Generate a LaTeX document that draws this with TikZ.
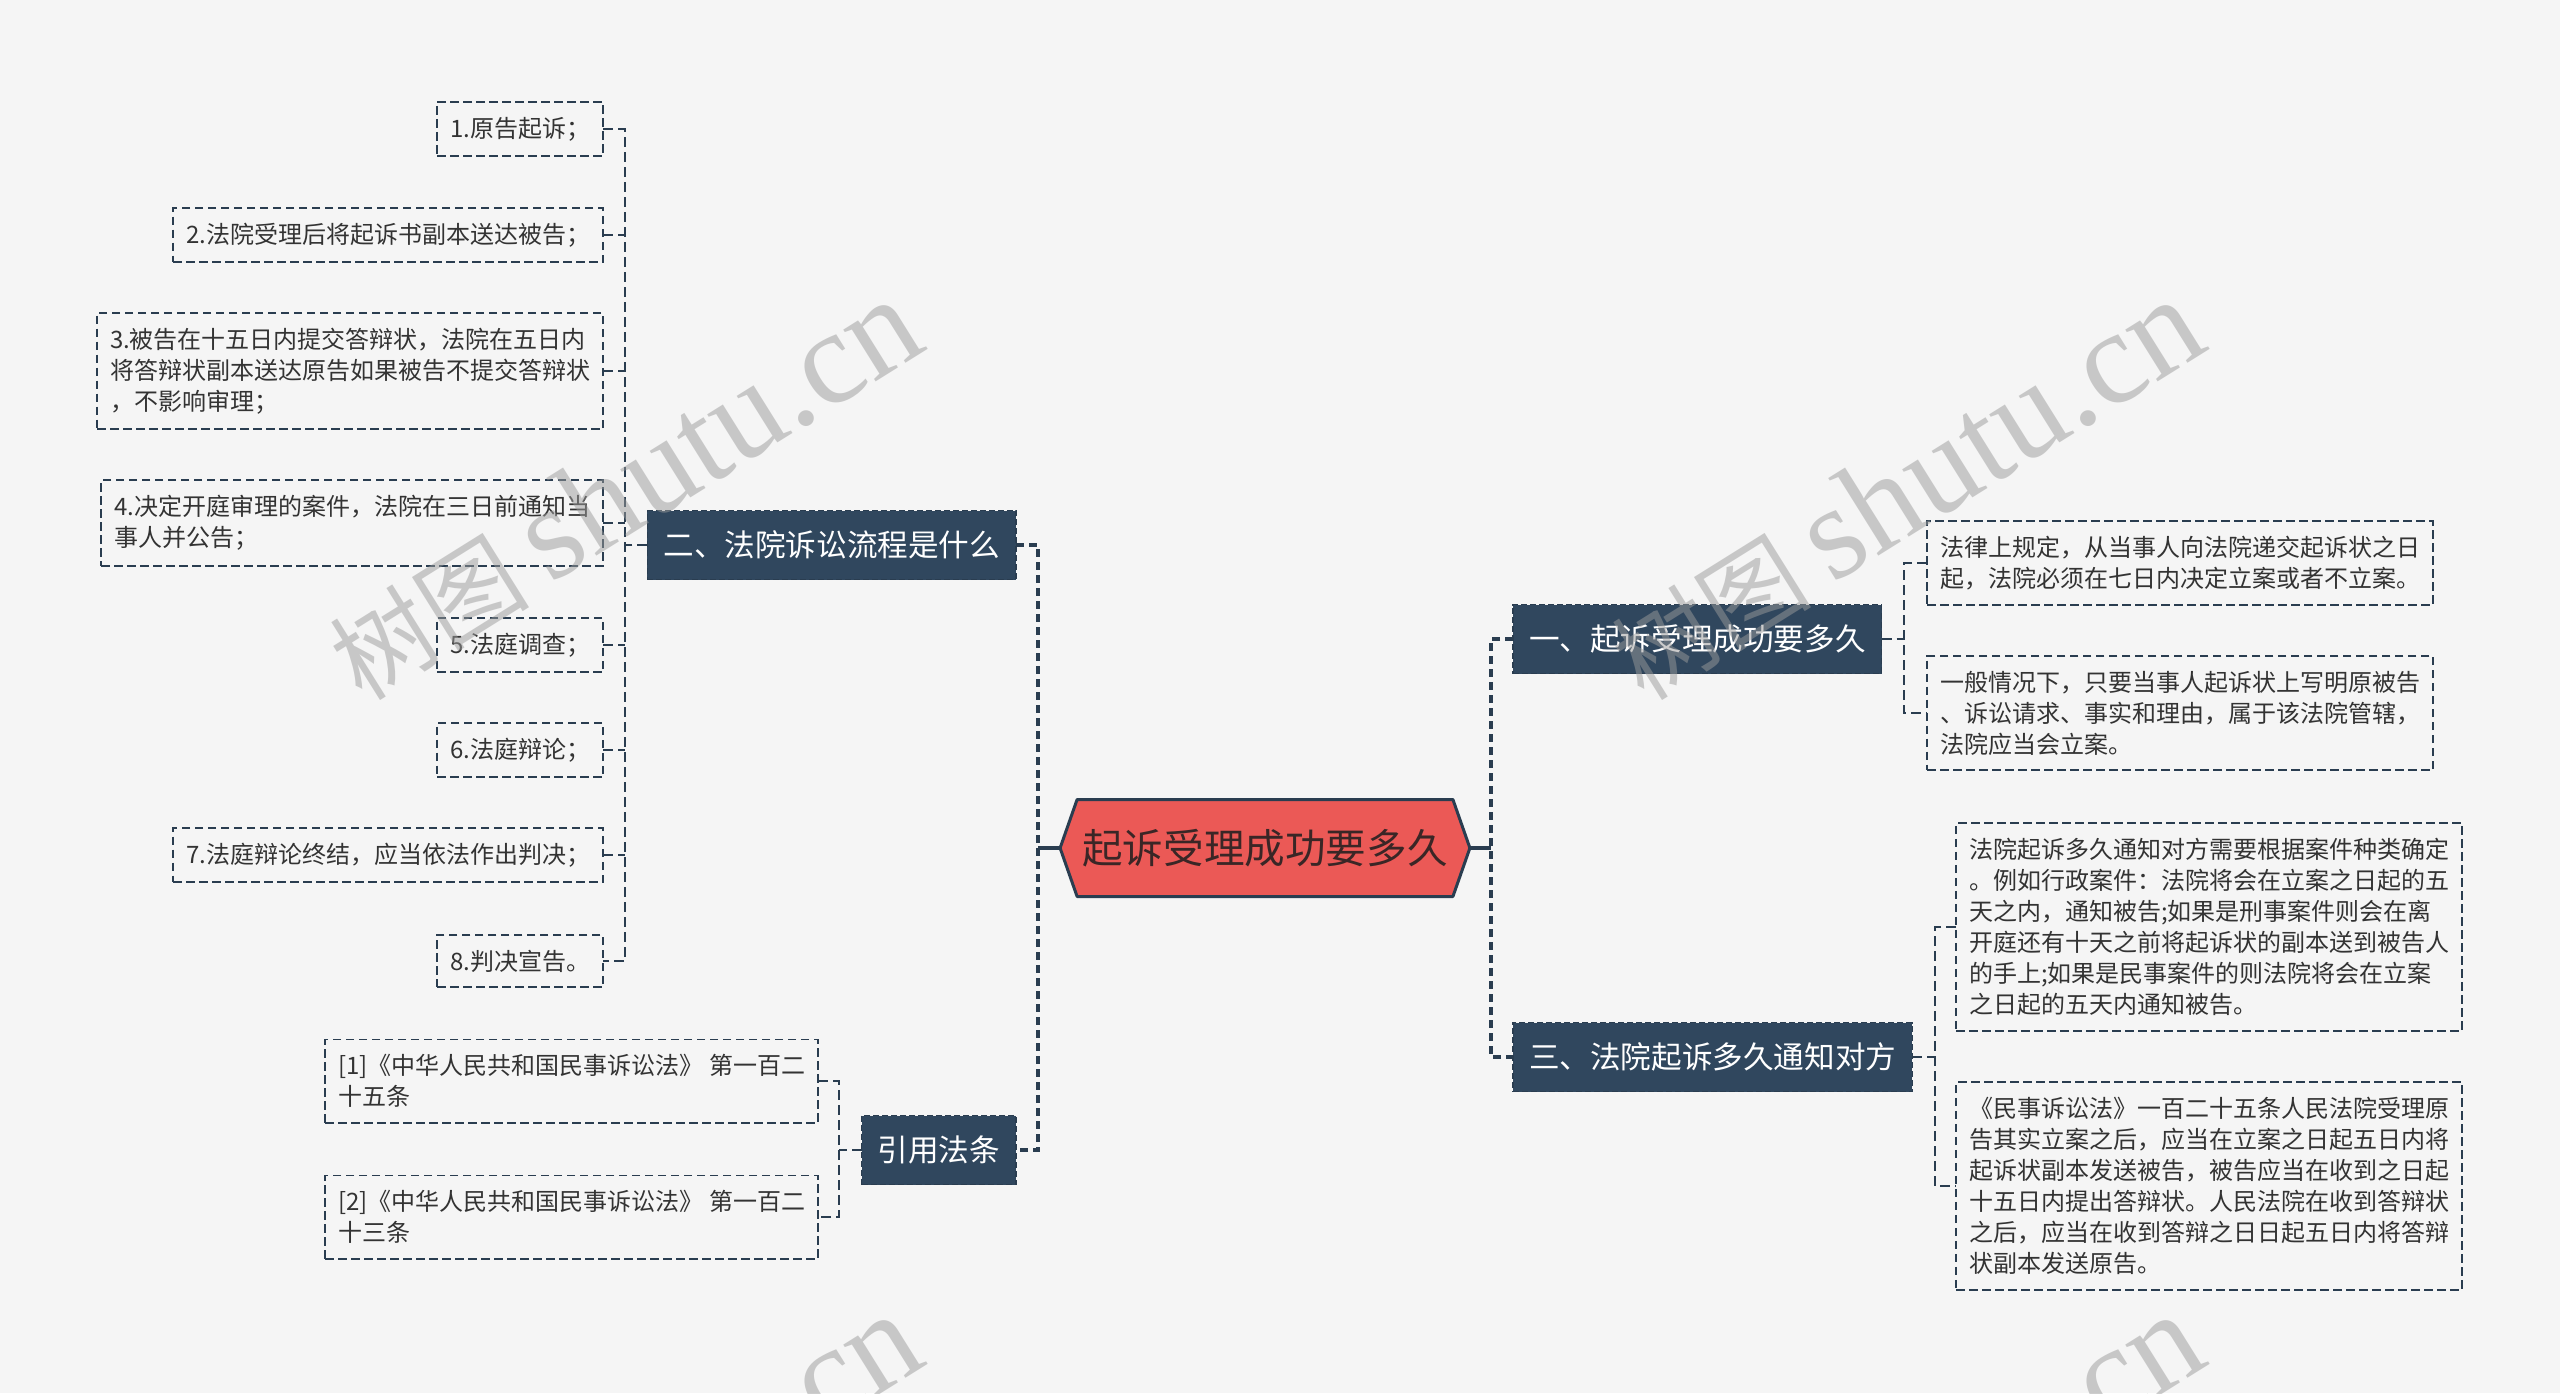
\documentclass[tikz,border=0pt]{standalone}
\usepackage{fontspec}
\setmainfont{Noto Sans CJK SC}
\newfontfamily\wmserif{Liberation Serif}
\usetikzlibrary{backgrounds}

\definecolor{pagebg}{HTML}{F5F5F5}
\definecolor{navy}{HTML}{30475E}
\definecolor{navyline}{HTML}{2A3D50}
\definecolor{rootred}{HTML}{EB5956}
\definecolor{leaftext}{HTML}{333333}
\definecolor{roottext}{HTML}{3A2626}
\definecolor{wmgray}{HTML}{9B9B9B}

\tikzset{
  leaf/.style={draw=navyline, line width=0.9pt, dash pattern=on 4.3pt off 2.2pt,
    text=leaftext, font=\fontsize{12}{15.5}\selectfont, align=left,
    inner xsep=6.5pt, inner ysep=7.5pt, outer sep=0pt},
  branch/.style={fill=navy, draw=navyline, line width=0.6pt, dash pattern=on 3pt off 1.5pt,
    text=white, font=\fontsize{15.3}{18}\selectfont, inner xsep=8pt,
    minimum height=34.5pt, outer sep=0pt},
  rootbox/.style={text=roottext, font=\fontsize{20.3}{24}\selectfont,
    inner xsep=2.6pt, minimum height=48.5pt, outer sep=0pt},
  stem/.style={draw=navyline, line width=1.75pt},
  trunk/.style={draw=navyline, line width=1.75pt, dash pattern=on 4pt off 2.5pt},
  twig/.style={draw=navyline, line width=0.75pt, dash pattern=on 5pt off 2.5pt},
  wm/.style={text=wmgray, opacity=0.5, font=\fontsize{50}{58}\selectfont, inner sep=0pt}
}

\begin{document}
\begin{tikzpicture}[x=0.5pt, y=-0.5pt]
\useasboundingbox (0,0) rectangle (2560,1393);

\node[rootbox] (root) at (1265,848) {起诉受理成功要多久};
\begin{scope}[on background layer]
\fill[pagebg] (0,0) rectangle (2560,1393);
\path[fill=rootred, draw=navyline, line width=1.5pt, line join=round]
  (root.north west) -- ([xshift=-8.5pt]root.west) -- (root.south west)
  -- (root.south east) -- ([xshift=8.5pt]root.east) -- (root.north east) -- cycle;
\end{scope}
\coordinate (tipL) at ([xshift=-8.5pt]root.west);
\coordinate (tipR) at ([xshift=8.5pt]root.east);
\coordinate (hubL) at (1038,848);
\coordinate (hubR) at (1491,848);

\node[branch, anchor=east] (proc) at (1016,545) {二、法院诉讼流程是什么};
\node[branch, anchor=east] (cite) at (1016,1150) {引用法条};
\node[branch, anchor=west] (accept) at (1513,639) {一、起诉受理成功要多久};
\node[branch, anchor=west] (notify) at (1513,1057) {三、法院起诉多久通知对方};

\draw[stem] (tipL) -- (hubL);
\draw[trunk] (proc.east) -| (hubL) |- (cite.east);
\draw[stem] (tipR) -- (hubR);
\draw[trunk] (accept.west) -| (hubR) |- (notify.west);

\node[leaf, anchor=east] (p1) at (603,129) {1.原告起诉；};
\node[leaf, anchor=east] (p2) at (603,235) {2.法院受理后将起诉书副本送达被告；};
\node[leaf, anchor=east] (p3) at (603,371) {3.被告在十五日内提交答辩状，法院在五日内\\将答辩状副本送达原告如果被告不提交答辩状\\，不影响审理；};
\node[leaf, anchor=east] (p4) at (603,523) {4.决定开庭审理的案件，法院在三日前通知当\\事人并公告；};
\node[leaf, anchor=east] (p5) at (603,645) {5.法庭调查；};
\node[leaf, anchor=east] (p6) at (603,750) {6.法庭辩论；};
\node[leaf, anchor=east] (p7) at (603,855) {7.法庭辩论终结，应当依法作出判决；};
\node[leaf, anchor=east] (p8) at (603,961) {8.判决宣告。};

\coordinate (hubP) at (625,545);
\draw[twig] (proc.west) -- (hubP);
\draw[twig] (p1.east) -| (hubP) |- (p8.east);
\foreach \i in {2,...,7}
  \draw[twig] (p\i.east) -- (p\i.east -| hubP);

\node[leaf, anchor=east] (c1) at (818,1081) {[1]《中华人民共和国民事诉讼法》 第一百二\\十五条};
\node[leaf, anchor=east] (c2) at (818,1217) {[2]《中华人民共和国民事诉讼法》 第一百二\\十三条};

\coordinate (hubC) at (839,1150);
\draw[twig] (cite.west) -- (hubC);
\draw[twig] (c1.east) -| (hubC) |- (c2.east);

\node[leaf, anchor=west] (a1) at (1927,563) {法律上规定，从当事人向法院递交起诉状之日\\起，法院必须在七日内决定立案或者不立案。};
\node[leaf, anchor=west] (a2) at (1927,713) {一般情况下，只要当事人起诉状上写明原被告\\、诉讼请求、事实和理由，属于该法院管辖，\\法院应当会立案。};

\coordinate (hubA) at (1904,639);
\draw[twig] (accept.east) -- (hubA);
\draw[twig] (a1.west) -| (hubA) |- (a2.west);

\node[leaf, anchor=west] (n1) at (1956,927) {法院起诉多久通知对方需要根据案件种类确定\\。例如行政案件：法院将会在立案之日起的五\\天之内，通知被告;如果是刑事案件则会在离\\开庭还有十天之前将起诉状的副本送到被告人\\的手上;如果是民事案件的则法院将会在立案\\之日起的五天内通知被告。};
\node[leaf, anchor=west] (n2) at (1956,1186) {《民事诉讼法》一百二十五条人民法院受理原\\告其实立案之后，应当在立案之日起五日内将\\起诉状副本发送被告，被告应当在收到之日起\\十五日内提出答辩状。人民法院在收到答辩状\\之后，应当在收到答辩之日日起五日内将答辩\\状副本发送原告。};

\coordinate (hubN) at (1935,1057);
\draw[twig] (notify.east) -- (hubN);
\draw[twig] (n1.west) -| (hubN) |- (n2.west);

\begin{scope}
\clip (0,0) rectangle (2560,1393);
\foreach \wx/\wy [count=\k] in {362/703, 1644/703, 362/1718, 1644/1718}
  \node[wm, anchor=base west, rotate=32] (wm\k) at (\wx,\wy)
    {树图 {\wmserif\fontsize{66.5}{70}\selectfont shutu.cn}};
\end{scope}
\end{tikzpicture}
\end{document}
